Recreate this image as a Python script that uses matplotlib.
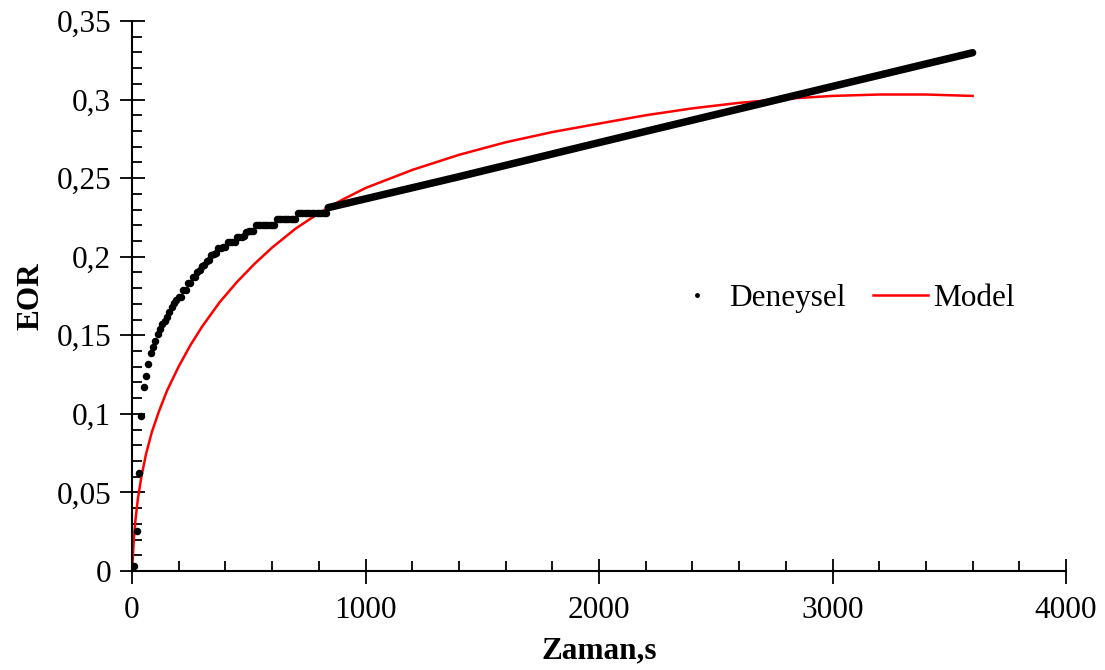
import numpy as np
import matplotlib.pyplot as plt
from matplotlib.ticker import MultipleLocator, FuncFormatter

# Deneysel (experimental) points, early part, one every 10 s
exp_t = [0, 10, 20, 30, 40, 50, 60, 70, 80, 90, 100, 110, 120, 130, 140, 150, 160, 170, 180, 190,
         200, 210, 220, 230, 240, 250, 260, 270, 280, 290, 300, 310, 320, 330, 340, 350, 360,
         370, 380, 390, 400, 410, 420, 430, 440, 450, 460, 470, 480, 490, 500, 510, 520,
         530, 540, 550, 560, 570, 580, 590, 600, 610,
         620, 630, 640, 650, 660, 670, 680, 690, 700,
         710, 720, 730, 740, 750, 760, 770, 780, 790, 800, 810, 820, 830]
exp_y = [0.0, 0.0034, 0.0256, 0.0622, 0.0986, 0.1169, 0.1241, 0.1317, 0.1389, 0.1427, 0.1464,
         0.1506, 0.1540, 0.1572, 0.1590, 0.1618, 0.1646, 0.1682, 0.1704, 0.1725,
         0.1746, 0.1746, 0.1788, 0.1788, 0.1830, 0.1830, 0.1869, 0.1869, 0.1905, 0.1915,
         0.1940, 0.1950, 0.1975, 0.1979, 0.2011, 0.2017, 0.2022,
         0.2054, 0.2056, 0.2060, 0.2060, 0.2092, 0.2096, 0.2096, 0.2096,
         0.2127, 0.2127, 0.2127, 0.2130, 0.2160, 0.2163, 0.2166, 0.2166,
         0.2202, 0.2202, 0.2202, 0.2202, 0.2202, 0.2202, 0.2202, 0.2202, 0.2202,
         0.2238, 0.2238, 0.2238, 0.2238, 0.2238, 0.2238, 0.2238, 0.2238, 0.2238,
         0.2276, 0.2276, 0.2276, 0.2276, 0.2276, 0.2276, 0.2276, 0.2276, 0.2276, 0.2276,
         0.2276, 0.2276, 0.2276]

# later experimental part: points so dense they merge into a thick line
exp_t2 = [840, 1400, 2000, 2800, 3600]
exp_y2 = [0.2312, 0.2509, 0.2726, 0.3012, 0.3298]

# Model curve
mod_t = [0, 3, 8, 15, 25, 40, 60, 85, 115, 150, 200, 250, 300, 375, 450, 525, 600, 700,
         800, 900, 1000, 1200, 1400, 1600, 1800, 2000, 2200, 2400, 2600, 2800, 3000,
         3200, 3400, 3600]
mod_y = [0.0, 0.008, 0.021, 0.033, 0.046, 0.060, 0.0745, 0.0885, 0.1015, 0.1148, 0.1302,
         0.1437, 0.1555, 0.1710, 0.1840, 0.1955, 0.2058, 0.2178, 0.2277, 0.2362, 0.2437,
         0.2552, 0.2648, 0.2728, 0.2793, 0.2847, 0.2900, 0.2944, 0.2979, 0.3005, 0.3023,
         0.3032, 0.3032, 0.3023]

plt.rcParams['font.family'] = ['Liberation Serif', 'DejaVu Serif']
fs = 22.5

fig = plt.figure(figsize=(11.05, 6.70), dpi=100)
ax = fig.add_axes([0.1195, 0.1478, 0.8452, 0.8209])

ax.plot(mod_t, mod_y, color='#ff0000', lw=1.8, label='Model', zorder=2)
ax.plot(exp_t2, exp_y2, color='black', lw=5.4, solid_capstyle='round', zorder=3)
pts, = ax.plot(exp_t, exp_y, 'o', color='black', ms=5.4, mew=0, label='Deneysel', zorder=4)

ax.set_xlim(0, 4000)
ax.set_ylim(0, 0.35)
ax.xaxis.set_major_locator(MultipleLocator(1000))
ax.xaxis.set_minor_locator(MultipleLocator(200))
ax.yaxis.set_major_locator(MultipleLocator(0.05))
ax.yaxis.set_minor_locator(MultipleLocator(0.01))
ax.yaxis.set_major_formatter(FuncFormatter(lambda v, p: ('%g' % round(v, 4)).replace('.', ',')))

for s in ['top', 'right']:
    ax.spines[s].set_visible(False)
for s in ['left', 'bottom']:
    ax.spines[s].set_linewidth(1.5)
ax.tick_params(which='major', direction='inout', length=18, width=1.3, labelsize=fs)
ax.tick_params(which='minor', direction='in', length=7, width=1.3)
ax.tick_params(axis='x', which='major', pad=9)
ax.tick_params(axis='y', which='major', pad=6)

ax.set_xlabel('Zaman,s', fontsize=fs, fontweight='bold', labelpad=8)
ax.set_ylabel('EOR', fontsize=fs, fontweight='bold', labelpad=8)

handles = [pts, ax.lines[0]]
ax.legend(handles, ['Deneysel', 'Model'], loc='center', bbox_to_anchor=(0.76, 0.496),
          ncol=2, frameon=False, fontsize=fs, markerscale=0.65, handlelength=1.75,
          handletextpad=0.15, columnspacing=0.9)

fig.savefig('out.png', dpi=100)
